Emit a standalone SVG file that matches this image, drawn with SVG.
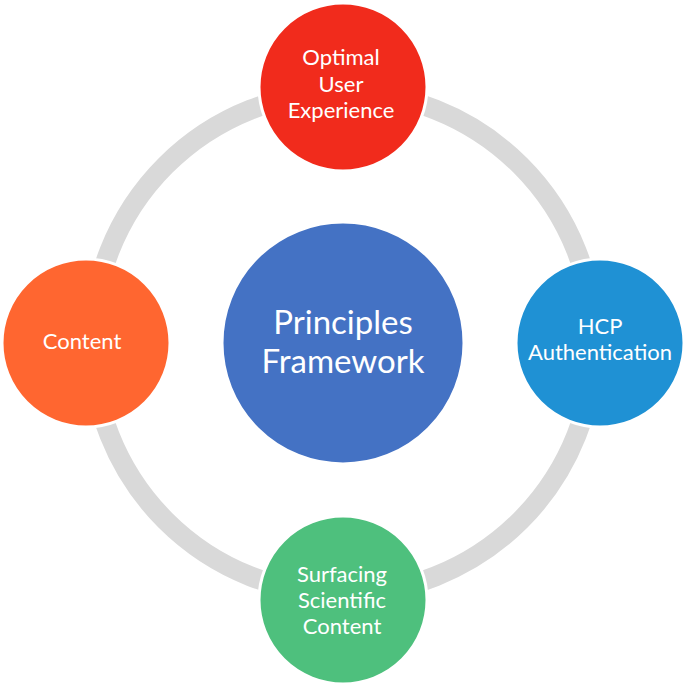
<svg xmlns="http://www.w3.org/2000/svg" width="685" height="685" viewBox="0 0 685 685">
<style>
.ring{fill:none;stroke:#D9D9D9;stroke-width:20}
.node{stroke:#FFFFFF;stroke-width:3}
.t{font-family:Lato,"Open Sans","Liberation Sans",sans-serif;fill:#FFFFFF;text-anchor:middle}
.s{font-size:22px}
.c{font-size:33px}
</style>
<rect width="685" height="685" fill="#FFFFFF"/>
<g id="connectors">
<path class="ring" d="M343 92 A251 251 0 0 1 594 343"/>
<path class="ring" d="M594 343 A251 251 0 0 1 343 594"/>
<path class="ring" d="M343 594 A251 251 0 0 1 92 343"/>
<path class="ring" d="M92 343 A251 251 0 0 1 343 92"/>
</g>
<g id="center">
<circle cx="343" cy="343" r="121" fill="#4472C4" class="node"/>
<text class="t c" x="343" y="334">Principles</text>
<text class="t c" x="343" y="373">Framework</text>
</g>
<g id="top">
<circle cx="343" cy="87" r="84" fill="#F12B1C" class="node"/>
<text class="t s" x="341" y="65">Optimal</text>
<text class="t s" x="341" y="91.5">User</text>
<text class="t s" x="341" y="118">Experience</text>
</g>
<g id="right">
<circle cx="600" cy="343" r="84" fill="#1F91D4" class="node"/>
<text class="t s" x="600" y="334">HCP</text>
<text class="t s" x="600" y="360">Authentication</text>
</g>
<g id="bottom">
<circle cx="343" cy="600" r="84" fill="#4EC07D" class="node"/>
<text class="t s" x="342" y="582">Surfacing</text>
<text class="t s" x="342" y="608">Scientific</text>
<text class="t s" x="342" y="634">Content</text>
</g>
<g id="left">
<circle cx="86" cy="343" r="84" fill="#FF6630" class="node"/>
<text class="t s" x="82" y="349">Content</text>
</g>
</svg>
